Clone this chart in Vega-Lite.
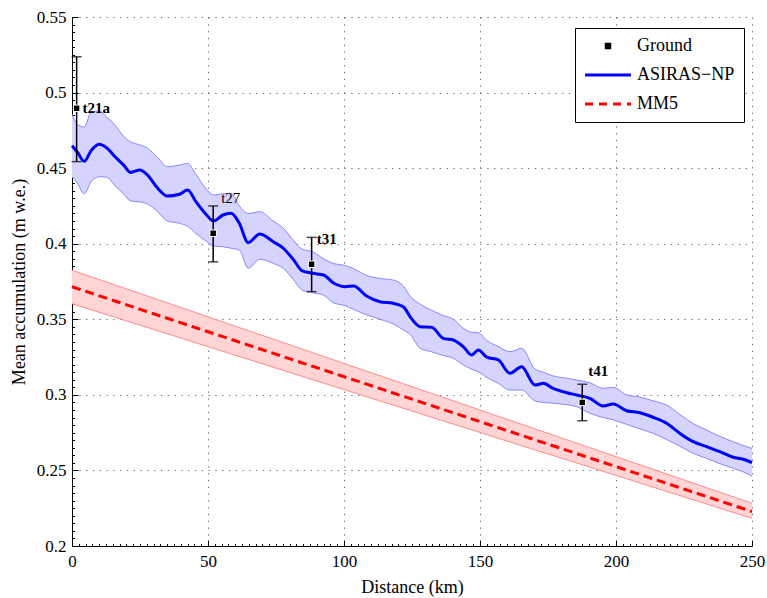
{
  "$schema": "https://vega.github.io/schema/vega-lite/v6.json",
  "width": 680,
  "height": 529,
  "autosize": {"type": "none"},
  "padding": {"left": 72, "top": 17, "right": 15, "bottom": 52},
  "background": "white",
  "config": {
    "view": {"stroke": null},
    "font": "Liberation Serif",
    "axis": {"labelFont": "Liberation Serif", "titleFont": "Liberation Serif", "labelColor": "black", "titleColor": "black", "titleFontWeight": "normal", "domainColor": "black", "tickColor": "black", "domainWidth": 1, "tickWidth": 1}
  },
  "datasets": {
    "asiras": [
      {"d": 0, "v": 0.4648, "lo": 0.4443, "hi": 0.4856},
      {"d": 2, "v": 0.4605, "lo": 0.44, "hi": 0.479},
      {"d": 4.5, "v": 0.4545, "lo": 0.433, "hi": 0.4772},
      {"d": 7, "v": 0.4615, "lo": 0.441, "hi": 0.487},
      {"d": 10, "v": 0.4658, "lo": 0.4443, "hi": 0.4878},
      {"d": 12.7, "v": 0.4635, "lo": 0.444, "hi": 0.484},
      {"d": 16, "v": 0.4572, "lo": 0.438, "hi": 0.478},
      {"d": 19, "v": 0.452, "lo": 0.433, "hi": 0.471},
      {"d": 21.5, "v": 0.4472, "lo": 0.4283, "hi": 0.4675},
      {"d": 25, "v": 0.4488, "lo": 0.4276, "hi": 0.4653},
      {"d": 27.5, "v": 0.4459, "lo": 0.4265, "hi": 0.4635},
      {"d": 31.5, "v": 0.4367, "lo": 0.4212, "hi": 0.457},
      {"d": 35, "v": 0.4315, "lo": 0.415, "hi": 0.451},
      {"d": 39.5, "v": 0.4327, "lo": 0.4135, "hi": 0.452},
      {"d": 42.5, "v": 0.4355, "lo": 0.4115, "hi": 0.4532},
      {"d": 45.5, "v": 0.428, "lo": 0.4069, "hi": 0.446},
      {"d": 49.5, "v": 0.419, "lo": 0.4015, "hi": 0.436},
      {"d": 52, "v": 0.415, "lo": 0.3985, "hi": 0.4322},
      {"d": 55.5, "v": 0.419, "lo": 0.398, "hi": 0.433},
      {"d": 58.5, "v": 0.4201, "lo": 0.397, "hi": 0.4333},
      {"d": 61.5, "v": 0.4135, "lo": 0.3958, "hi": 0.425},
      {"d": 64.8, "v": 0.4007, "lo": 0.3837, "hi": 0.42},
      {"d": 69, "v": 0.4064, "lo": 0.3897, "hi": 0.4212},
      {"d": 74, "v": 0.4013, "lo": 0.387, "hi": 0.415},
      {"d": 77.7, "v": 0.397, "lo": 0.3837, "hi": 0.4102},
      {"d": 81.5, "v": 0.3892, "lo": 0.376, "hi": 0.402},
      {"d": 84.5, "v": 0.3822, "lo": 0.3694, "hi": 0.3965},
      {"d": 88.5, "v": 0.3804, "lo": 0.3675, "hi": 0.3947},
      {"d": 92.5, "v": 0.3793, "lo": 0.366, "hi": 0.39},
      {"d": 96, "v": 0.3742, "lo": 0.361, "hi": 0.387},
      {"d": 100.5, "v": 0.3716, "lo": 0.359, "hi": 0.3855},
      {"d": 103.5, "v": 0.372, "lo": 0.3565, "hi": 0.3835},
      {"d": 108.3, "v": 0.3654, "lo": 0.353, "hi": 0.379},
      {"d": 113.2, "v": 0.3616, "lo": 0.35, "hi": 0.377},
      {"d": 118, "v": 0.3606, "lo": 0.347, "hi": 0.376},
      {"d": 121.8, "v": 0.3583, "lo": 0.343, "hi": 0.372},
      {"d": 124.5, "v": 0.3512, "lo": 0.3396, "hi": 0.3649},
      {"d": 128, "v": 0.3451, "lo": 0.3308, "hi": 0.36},
      {"d": 132.2, "v": 0.3447, "lo": 0.3285, "hi": 0.356},
      {"d": 136.5, "v": 0.3374, "lo": 0.326, "hi": 0.3525},
      {"d": 140.2, "v": 0.3363, "lo": 0.3242, "hi": 0.35},
      {"d": 143.9, "v": 0.3318, "lo": 0.3198, "hi": 0.344},
      {"d": 146.9, "v": 0.3264, "lo": 0.317, "hi": 0.3415},
      {"d": 149.4, "v": 0.3297, "lo": 0.3153, "hi": 0.3411},
      {"d": 152.5, "v": 0.3249, "lo": 0.3115, "hi": 0.336},
      {"d": 156.7, "v": 0.3231, "lo": 0.3076, "hi": 0.332},
      {"d": 161, "v": 0.3143, "lo": 0.3032, "hi": 0.3285},
      {"d": 165.3, "v": 0.3186, "lo": 0.3032, "hi": 0.3308},
      {"d": 170.2, "v": 0.3065, "lo": 0.296, "hi": 0.317},
      {"d": 173.3, "v": 0.3076, "lo": 0.295, "hi": 0.315},
      {"d": 176.9, "v": 0.3043, "lo": 0.2945, "hi": 0.3125},
      {"d": 181.9, "v": 0.3014, "lo": 0.2935, "hi": 0.311},
      {"d": 185.5, "v": 0.2999, "lo": 0.2922, "hi": 0.3098},
      {"d": 190.4, "v": 0.2977, "lo": 0.2878, "hi": 0.308},
      {"d": 195.3, "v": 0.2926, "lo": 0.285, "hi": 0.3043},
      {"d": 199, "v": 0.294, "lo": 0.2834, "hi": 0.305},
      {"d": 203.9, "v": 0.2895, "lo": 0.2805, "hi": 0.3},
      {"d": 208.8, "v": 0.2882, "lo": 0.2775, "hi": 0.2985},
      {"d": 213.7, "v": 0.2851, "lo": 0.2745, "hi": 0.296},
      {"d": 218.6, "v": 0.2812, "lo": 0.2705, "hi": 0.2933},
      {"d": 223.5, "v": 0.2745, "lo": 0.266, "hi": 0.287},
      {"d": 228.4, "v": 0.269, "lo": 0.2613, "hi": 0.281},
      {"d": 233.3, "v": 0.2657, "lo": 0.258, "hi": 0.2767},
      {"d": 238.2, "v": 0.2624, "lo": 0.2545, "hi": 0.2725},
      {"d": 243.1, "v": 0.2587, "lo": 0.2514, "hi": 0.269},
      {"d": 246.8, "v": 0.2574, "lo": 0.249, "hi": 0.2665},
      {"d": 250, "v": 0.2551, "lo": 0.2463, "hi": 0.2646}
    ],
    "mm5": [
      {"d": 0, "v": 0.3715, "lo": 0.3603, "hi": 0.3825},
      {"d": 250, "v": 0.2228, "lo": 0.2183, "hi": 0.2283}
    ],
    "ground": [
      {"site": "t21a", "d": 1.7, "v": 0.4896, "lo": 0.4543, "hi": 0.5237},
      {"site": "t27", "d": 51.9, "v": 0.4069, "lo": 0.388, "hi": 0.425},
      {"site": "t31", "d": 88.1, "v": 0.3864, "lo": 0.3683, "hi": 0.4042},
      {"site": "t41", "d": 187.6, "v": 0.295, "lo": 0.2829, "hi": 0.307}
    ]
  },
  "layer": [
    {
      "data": {"name": "mm5"},
      "mark": {"type": "area", "color": "#ffd4d4", "opacity": 1},
      "encoding": {
        "x": {"field": "d", "type": "quantitative", "scale": {"domain": [0, 250], "nice": false, "zero": false},
          "axis": {
            "title": "Distance (km)", "titleFontSize": 18, "titlePadding": 6,
            "tickCount": 1000,
            "values": [0,2.5,5,7.5,10,12.5,15,17.5,20,22.5,25,27.5,30,32.5,35,37.5,40,42.5,45,47.5,50,52.5,55,57.5,60,62.5,65,67.5,70,72.5,75,77.5,80,82.5,85,87.5,90,92.5,95,97.5,100,102.5,105,107.5,110,112.5,115,117.5,120,122.5,125,127.5,130,132.5,135,137.5,140,142.5,145,147.5,150,152.5,155,157.5,160,162.5,165,167.5,170,172.5,175,177.5,180,182.5,185,187.5,190,192.5,195,197.5,200,202.5,205,207.5,210,212.5,215,217.5,220,222.5,225,227.5,230,232.5,235,237.5,240,242.5,245,247.5,250],
            "format": ".0f",
            "labelExpr": "datum.value % 50 === 0 ? datum.label : ''",
            "labelOverlap": false, "labelFlush": false, "labelFontSize": 17, "labelPadding": 13,
            "grid": true,
            "gridColor": {"condition": {"test": "datum.value % 50 === 0", "value": "#6a6a6a"}, "value": "transparent"},
            "gridDash": [1.3, 5.5],
            "tickSize": {"condition": {"test": "datum.value % 50 === 0", "value": -6}, "value": -2.5}
          }
        },
        "y": {"field": "lo", "type": "quantitative", "scale": {"domain": [0.2, 0.55], "nice": false, "zero": false},
          "axis": {
            "title": "Mean accumulation (m w.e.)", "titleFontSize": 18, "titlePadding": 8,
            "tickCount": 1000,
            "values": [0.2,0.205,0.21,0.215,0.22,0.225,0.23,0.235,0.24,0.245,0.25,0.255,0.26,0.265,0.27,0.275,0.28,0.285,0.29,0.295,0.3,0.305,0.31,0.315,0.32,0.325,0.33,0.335,0.34,0.345,0.35,0.355,0.36,0.365,0.37,0.375,0.38,0.385,0.39,0.395,0.4,0.405,0.41,0.415,0.42,0.425,0.43,0.435,0.44,0.445,0.45,0.455,0.46,0.465,0.47,0.475,0.48,0.485,0.49,0.495,0.5,0.505,0.51,0.515,0.52,0.525,0.53,0.535,0.54,0.545,0.55],
            "format": ".2~f",
            "labelExpr": "abs(datum.value * 20 - round(datum.value * 20)) < 0.000001 ? datum.label : ''",
            "labelOverlap": false, "labelFlush": false, "labelFontSize": 17, "labelPadding": 12,
            "grid": true,
            "gridColor": {"condition": {"test": "abs(datum.value * 20 - round(datum.value * 20)) < 0.000001", "value": "#6a6a6a"}, "value": "transparent"},
            "gridDash": [1.3, 5.5],
            "tickSize": {"condition": {"test": "abs(datum.value * 20 - round(datum.value * 20)) < 0.000001", "value": -6}, "value": -2.5}
          }
        },
        "y2": {"field": "hi"}
      }
    },
    {
      "data": {"name": "mm5"},
      "mark": {"type": "line", "color": "#ff8c8c", "strokeWidth": 1},
      "encoding": {"x": {"field": "d", "type": "quantitative"}, "y": {"field": "lo", "type": "quantitative"}}
    },
    {
      "data": {"name": "mm5"},
      "mark": {"type": "line", "color": "#ff8c8c", "strokeWidth": 1},
      "encoding": {"x": {"field": "d", "type": "quantitative"}, "y": {"field": "hi", "type": "quantitative"}}
    },
    {
      "data": {"name": "asiras"},
      "mark": {"type": "area", "color": "#d4d4ff", "opacity": 1, "interpolate": "monotone"},
      "encoding": {"x": {"field": "d", "type": "quantitative"}, "y": {"field": "lo", "type": "quantitative"}, "y2": {"field": "hi"}}
    },
    {
      "data": {"name": "asiras"},
      "mark": {"type": "line", "color": "#8888ff", "strokeWidth": 1, "interpolate": "monotone"},
      "encoding": {"x": {"field": "d", "type": "quantitative"}, "y": {"field": "lo", "type": "quantitative"}}
    },
    {
      "data": {"name": "asiras"},
      "mark": {"type": "line", "color": "#8888ff", "strokeWidth": 1, "interpolate": "monotone"},
      "encoding": {"x": {"field": "d", "type": "quantitative"}, "y": {"field": "hi", "type": "quantitative"}}
    },
    {
      "data": {"name": "mm5"},
      "mark": {"type": "line", "strokeWidth": 3, "strokeDash": [9, 5]},
      "encoding": {
        "x": {"field": "d", "type": "quantitative"},
        "y": {"field": "v", "type": "quantitative"},
        "color": {"datum": "MM5", "type": "nominal",
          "scale": {"domain": ["Ground", "ASIRAS−NP", "MM5"], "range": ["#000000", "#0000ff", "#ff0000"]},
          "legend": {
            "title": null, "orient": "none", "legendX": 503, "legendY": 11,
            "strokeColor": "black", "fillColor": "white", "padding": 9,
            "symbolType": "stroke", "symbolSize": 2025, "symbolStrokeWidth": 3, "symbolOffset": 15,
            "labelFont": "Liberation Serif", "labelFontSize": 18, "labelColor": "black", "labelOffset": 20,
            "rowPadding": 11,
            "encode": {"symbols": {"update": {
              "shape": {"signal": "datum.value === 'Ground' ? 'square' : 'stroke'"},
              "size": {"signal": "datum.value === 'Ground' ? 42 : 2116"},
              "strokeDash": {"signal": "datum.value === 'MM5' ? [8, 6] : [1, 0]"},
              "fill": {"signal": "datum.value === 'Ground' ? '#000000' : 'transparent'"},
              "stroke": {"signal": "datum.value === 'Ground' ? '#000000' : (datum.value === 'MM5' ? '#ff0000' : '#0000ff')"},
              "strokeWidth": {"signal": "datum.value === 'Ground' ? 0 : 3"},
              "opacity": {"value": 1}
            }}}
          }
        }
      }
    },
    {
      "data": {"name": "asiras"},
      "mark": {"type": "line", "strokeWidth": 3, "interpolate": "monotone"},
      "encoding": {
        "x": {"field": "d", "type": "quantitative"},
        "y": {"field": "v", "type": "quantitative"},
        "color": {"datum": "ASIRAS−NP", "type": "nominal"}
      }
    },
    {
      "data": {"name": "ground"},
      "mark": {"type": "rule", "color": "black", "strokeWidth": 1.5},
      "encoding": {"x": {"field": "d", "type": "quantitative"}, "y": {"field": "lo", "type": "quantitative"}, "y2": {"field": "hi"}}
    },
    {
      "data": {"name": "ground"},
      "mark": {"type": "tick", "orient": "horizontal", "color": "black", "size": 10, "thickness": 1.5},
      "encoding": {"x": {"field": "d", "type": "quantitative"}, "y": {"field": "lo", "type": "quantitative"}}
    },
    {
      "data": {"name": "ground"},
      "mark": {"type": "tick", "orient": "horizontal", "color": "black", "size": 10, "thickness": 1.5},
      "encoding": {"x": {"field": "d", "type": "quantitative"}, "y": {"field": "hi", "type": "quantitative"}}
    },
    {
      "data": {"name": "ground"},
      "mark": {"type": "point", "shape": "square", "filled": true, "size": 42, "stroke": "white", "strokeWidth": 1, "opacity": 1},
      "encoding": {
        "x": {"field": "d", "type": "quantitative"},
        "y": {"field": "v", "type": "quantitative"},
        "color": {"datum": "Ground", "type": "nominal"}
      }
    },
    {
      "data": {"name": "ground"},
      "transform": [{"filter": "datum.site === 't21a'"}],
      "mark": {"type": "text", "align": "left", "baseline": "middle", "dx": 6, "font": "Liberation Serif", "fontSize": 15, "fontWeight": "bold", "color": "black"},
      "encoding": {"x": {"field": "d", "type": "quantitative"}, "y": {"field": "v", "type": "quantitative"}, "text": {"field": "site"}}
    },
    {
      "data": {"name": "ground"},
      "transform": [{"filter": "datum.site === 't27'"}],
      "mark": {"type": "text", "align": "left", "baseline": "middle", "dx": 8, "dy": -8, "font": "Liberation Serif", "fontSize": 15, "color": "black"},
      "encoding": {"x": {"field": "d", "type": "quantitative"}, "y": {"field": "hi", "type": "quantitative"}, "text": {"field": "site"}}
    },
    {
      "data": {"name": "ground"},
      "transform": [{"filter": "datum.site === 't31'"}],
      "mark": {"type": "text", "align": "left", "baseline": "middle", "dx": 5, "dy": 2, "font": "Liberation Serif", "fontSize": 15, "fontWeight": "bold", "color": "black"},
      "encoding": {"x": {"field": "d", "type": "quantitative"}, "y": {"field": "hi", "type": "quantitative"}, "text": {"field": "site"}}
    },
    {
      "data": {"name": "ground"},
      "transform": [{"filter": "datum.site === 't41'"}],
      "mark": {"type": "text", "align": "left", "baseline": "middle", "dx": 6, "dy": -13, "font": "Liberation Serif", "fontSize": 15, "fontWeight": "bold", "color": "black"},
      "encoding": {"x": {"field": "d", "type": "quantitative"}, "y": {"field": "hi", "type": "quantitative"}, "text": {"field": "site"}}
    }
  ]
}
